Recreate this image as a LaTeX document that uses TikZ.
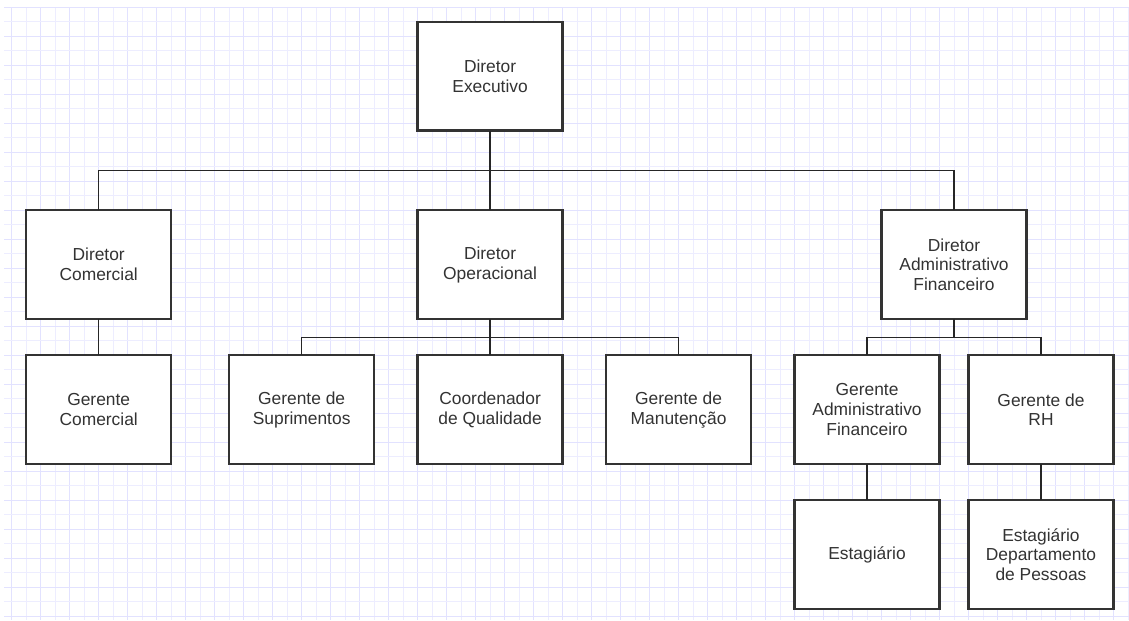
\documentclass[tikz,border=0pt]{standalone}
\usepackage{fontspec}
\setmainfont{Liberation Sans}
\usetikzlibrary{positioning,calc}

\definecolor{gridc}{HTML}{EDEDFF}
\definecolor{gridm}{HTML}{E2E2FF}
\definecolor{boxc}{HTML}{333333}
\definecolor{txtc}{HTML}{333333}

\tikzset{
  box/.style={draw=boxc,line width=1.3pt,fill=white,minimum width=2.9cm,
    minimum height=2.175cm,inner sep=0pt,outer sep=0pt,align=center,
    text=txtc,font=\fontsize{9.9}{11.3}\selectfont},
  link/.style={draw=black!85,line width=0.7pt},
  gridline/.style={draw=gridc,line width=0.55pt},
  gridmajor/.style={draw=gridm,line width=0.6pt}
}

\begin{document}
\begin{tikzpicture}[x=0.02cm,y=-0.02cm,node distance=0.725cm]
	\useasboundingbox (0,0) rectangle (1129,620);
	\fill[white] (0,0) rectangle (1129,620);
	% grid
	\foreach \i in {0,...,77} {
		\pgfmathtruncatemacro{\ev}{mod(\i,2)}
		\ifnum\ev=0 \draw[gridmajor] (11.6+\i*14.5,7) -- (11.6+\i*14.5,620);
		\else \draw[gridline] (11.6+\i*14.5,7) -- (11.6+\i*14.5,620); \fi
	}
	\foreach \j in {0,...,42} {
		\pgfmathtruncatemacro{\ev}{mod(\j,2)}
		\ifnum\ev=0 \draw[gridmajor] (4,7.3+\j*14.5) -- (1129,7.3+\j*14.5);
		\else \draw[gridline] (4,7.3+\j*14.5) -- (1129,7.3+\j*14.5); \fi
	}

	\node[box] (exec) at (490.1,76.2) {Diretor\\Executivo};
	\node[box] (dop) [below=1.595cm of exec] {Diretor\\Operacional};
	\node[box] (dcom) [left=4.93cm of dop] {Diretor\\Comercial};
	\node[box] (dadm) [right=6.38cm of dop] {Diretor\\Administrativo\\Financeiro};

	\node[box] (gcom) [below=of dcom] {Gerente\\Comercial};
	\node[box] (coord) [below=of dop] {Coordenador\\de Qualidade};
	\node[box] (gsup) [left=0.87cm of coord] {Gerente de\\Suprimentos};
	\node[box] (gman) [right=0.87cm of coord] {Gerente de\\Manutenção};

	\node[box] (gadm) [below=of dadm,xshift=-1.74cm] {Gerente\\Administrativo\\Financeiro};
	\node[box] (grh) [right=0.58cm of gadm] {Gerente de\\RH};
	\node[box] (est) [below=of gadm] {Estagiário};
	\node[box] (estdp) [below=of grh] {Estagiário\\Departamento\\de Pessoas};

	% connectors
	\coordinate (busA) at ($(exec.south)!0.5!(dop.north)$);
	\coordinate (busB) at ($(dop.south)!0.5!(coord.north)$);
	\coordinate (busC) at ($(dadm.south)!0.5!(dadm.south |- gadm.north)$);

	\draw[link,line width=1.3pt] (exec) -- (busA);
	\draw[link] (busA) -- (dop);
	\draw[link] (dcom.north) |- (busA) -| (dadm.north);
	\draw[link] (dcom) -- (gcom);
	\draw[link] (dop) -- (coord);
	\draw[link] (gsup.north) |- (busB) -| (gman.north);
	\draw[link] (dadm.south) -- (busC);
	\draw[link] (gadm.north) |- (busC) -| (grh.north);
	\draw[link] (gadm) -- (est);
	\draw[link] (grh) -- (estdp);
\end{tikzpicture}
\end{document}
